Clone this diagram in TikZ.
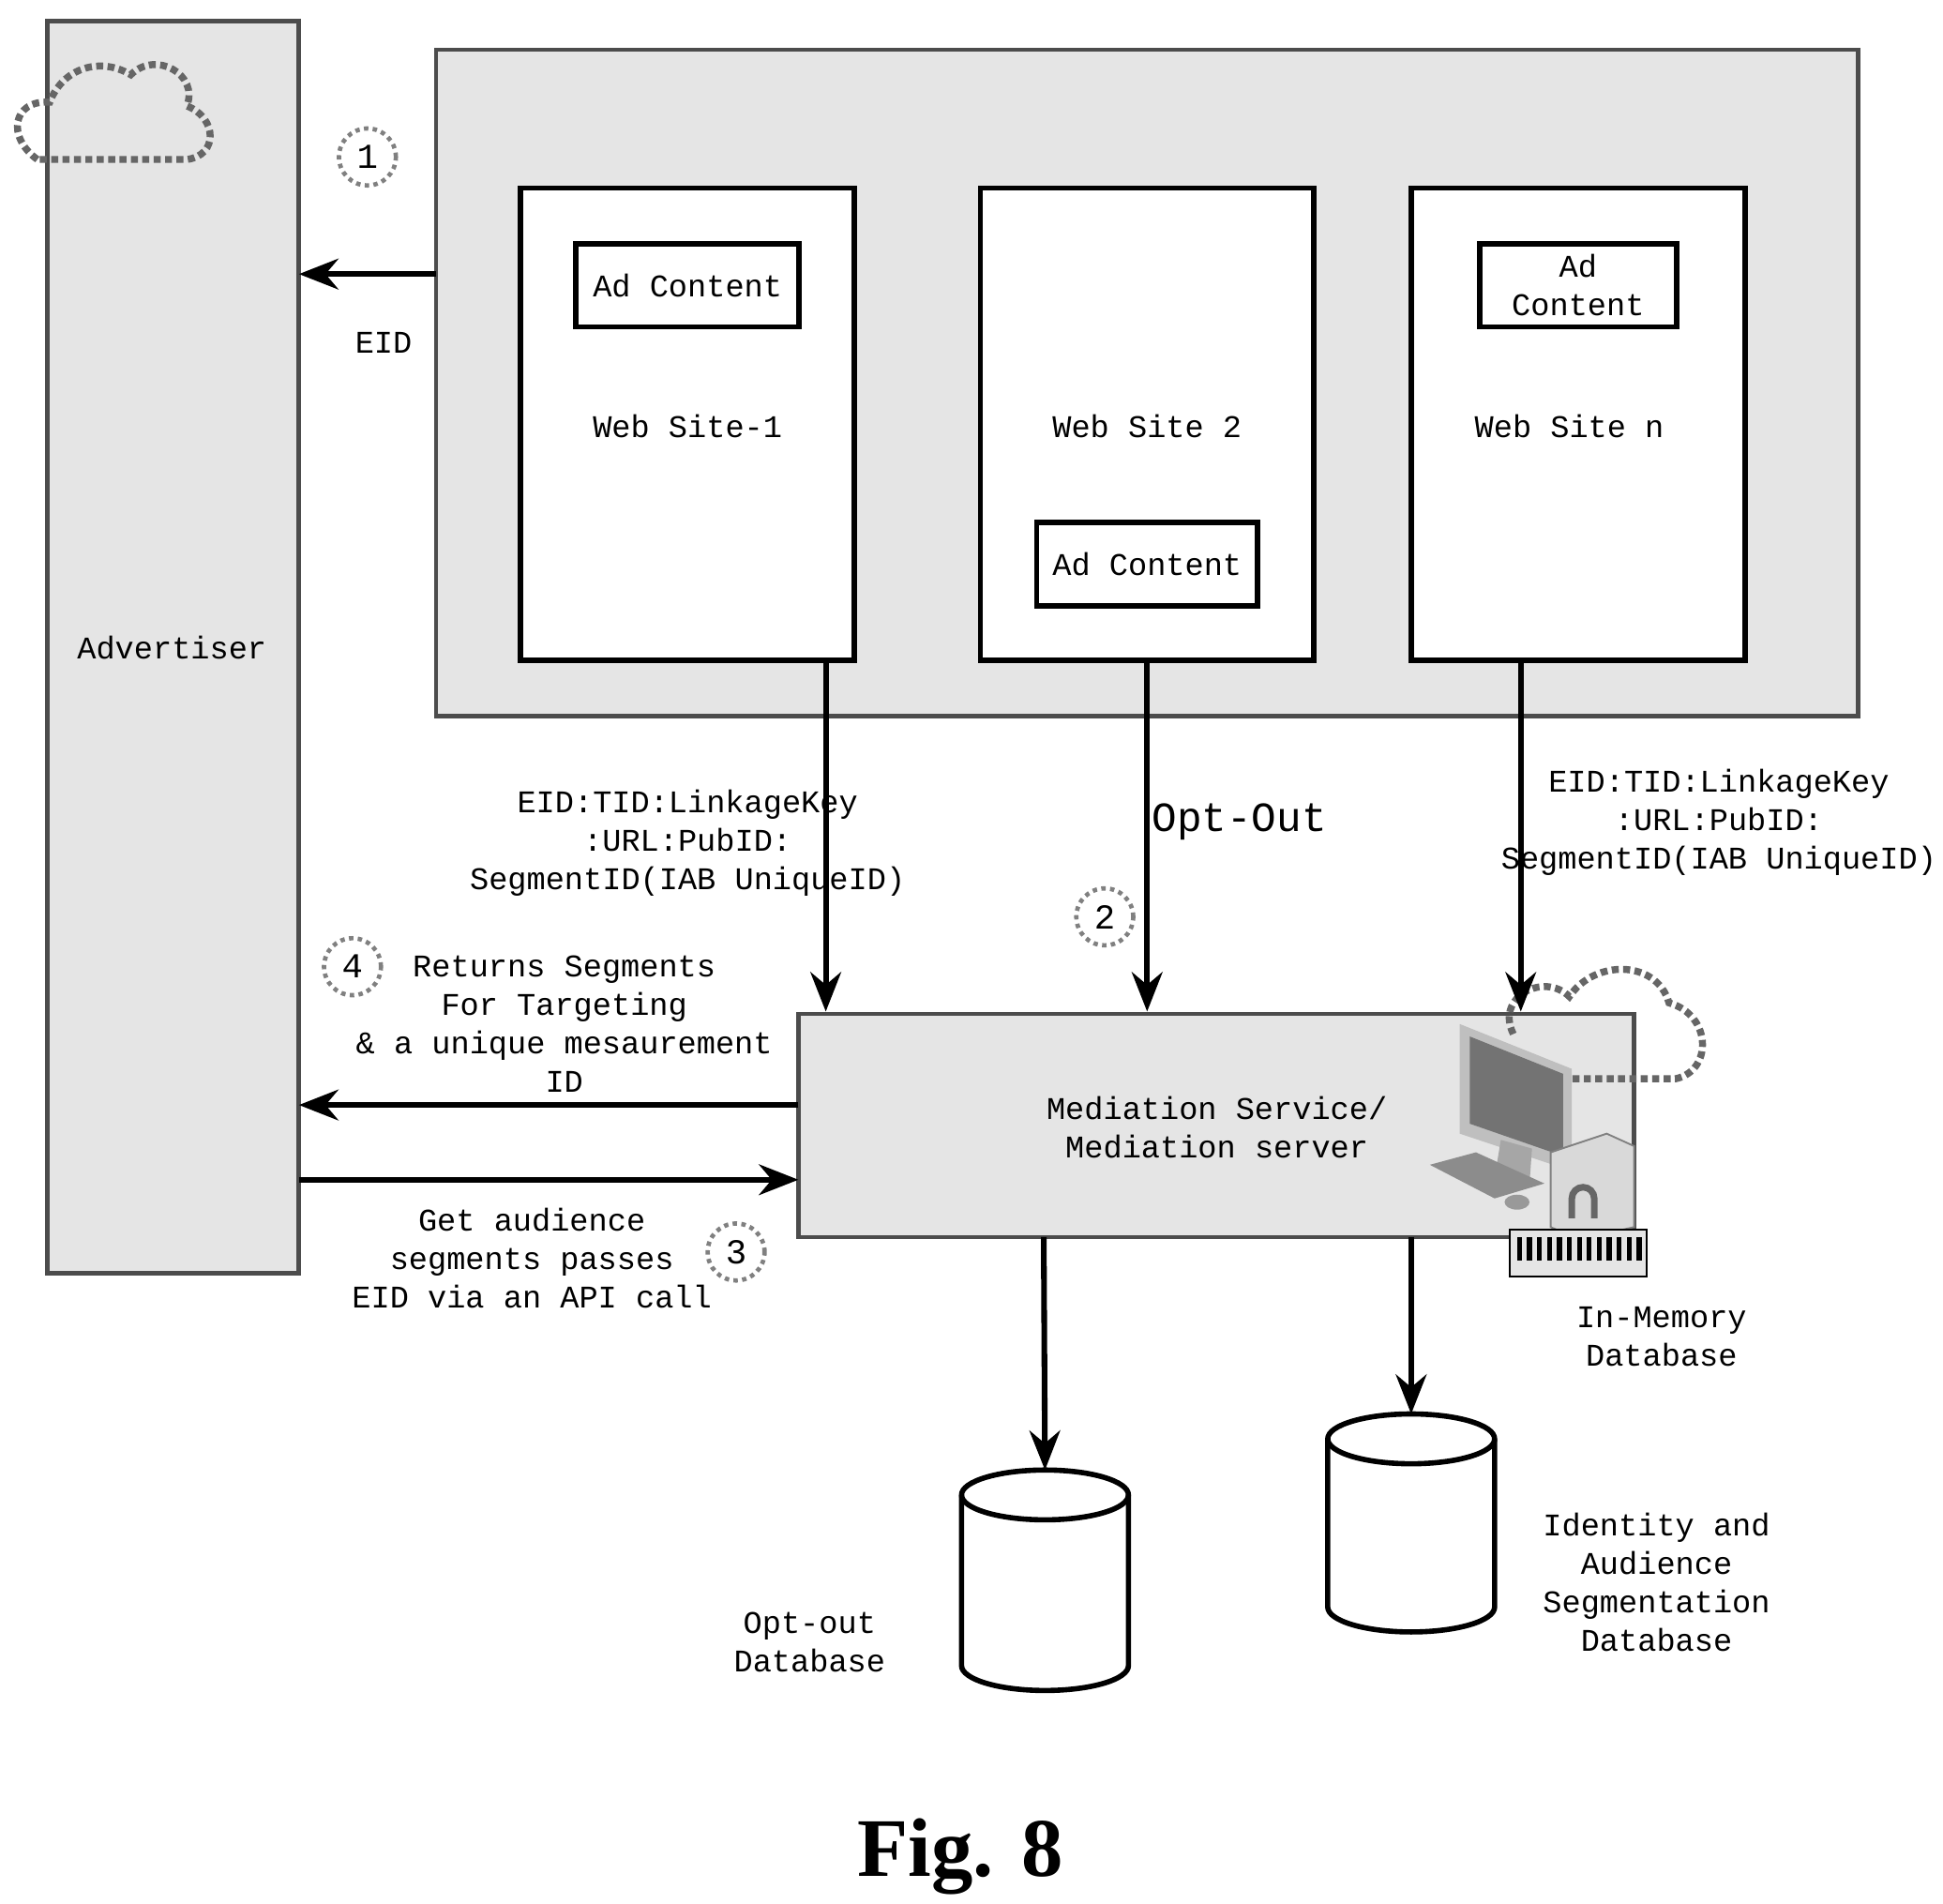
\documentclass[tikz,border=0pt]{standalone}
\usepackage{fontspec}
\setmainfont{Liberation Mono}
\newfontfamily\figfont{Liberation Serif}
\usetikzlibrary{arrows.meta}
\begin{document}
\begin{tikzpicture}[x=0.01cm,y=-0.01cm,
  box/.style={draw,line width=1.2pt,fill=white},
  shade/.style={draw=black!70,line width=1pt,fill=black!10},
  txt/.style={font=\fontsize{7.2}{8.8}\selectfont,align=center,inner sep=0pt},
  arr/.style={line width=1.3pt,-{Stealth[length=9pt,width=7pt]}},
  num/.style={circle,draw=black!50,densely dotted,line width=1pt,minimum size=13pt,inner sep=0pt,font=\fontsize{8}{9}\selectfont}]
\useasboundingbox (0,0) rectangle (1560,1528);
\fill[white] (0,0) rectangle (1560,1528);
% advertiser
\draw[shade] (38,17) rectangle (240,1022);
\node[txt] (adv) at (138,520) {Advertiser};
\draw[black!60,densely dotted,line width=1.6pt] (30,128) .. controls (5,110) and (10,80) .. (40,82) .. controls (50,55) and (80,45) .. (105,60) .. controls (125,40) and (160,60) .. (150,85) .. controls (175,95) and (175,125) .. (150,128) -- cycle;
% publishers
\draw[shade] (350,40) rectangle (1492,575);
\draw[box] (418,151) rectangle (686,530);
\draw[box] (787,151) rectangle (1055,530);
\draw[box] (1133,151) rectangle (1401,530);
\node[box,txt,minimum width=51pt,minimum height=19pt] (ad1) at (552,229) {Ad Content};
\node[box,txt,minimum width=50.5pt,minimum height=19pt] (ad2) at (921,453) {Ad Content};
\node[box,txt,minimum width=45pt,minimum height=19pt] (ad3) at (1267,229) {Ad\\Content};
\node[txt] (w1) at (552,342) {Web Site-1};
\node[txt] (w2) at (921,342) {Web Site 2};
\node[txt] (w3) at (1260,342) {Web Site n};
% mediation
\draw[shade] (641,814) rectangle (1312,993);
\node[txt] (med) at (977,905) {Mediation Service/\\Mediation server};
\draw[black!60,densely dotted,line width=1.6pt] (1215,830) .. controls (1200,800) and (1240,780) .. (1260,800) .. controls (1280,770) and (1330,770) .. (1340,805) .. controls (1375,815) and (1375,860) .. (1345,866) -- (1260,866);
% computer icon
\fill[black!25] (1172,822) -- (1262,858) -- (1262,940) -- (1172,910) -- cycle;
\fill[black!55] (1180,832) -- (1255,862) -- (1255,928) -- (1180,902) -- cycle;
\fill[black!35] (1205,915) -- (1230,922) -- (1228,950) -- (1200,945) -- cycle;
\fill[black!45] (1148,935) -- (1185,925) -- (1240,950) -- (1200,962) -- cycle;
\fill[black!40] (1218,965) ellipse (10 and 6);
\fill[black!15,draw=black!50] (1245,925) -- (1290,910) -- (1312,920) -- (1312,985) -- (1268,995) -- (1245,985) -- cycle;
\draw[black!60,line width=1.5pt] (1262,978) -- (1262,962) arc[start angle=180,end angle=360,radius=9] -- (1280,978);
\fill[black!10,draw=black] (1212,987) rectangle (1322,1025);
\foreach \i in {0,...,12}{\fill[black] (1218+\i*8,993) rectangle (1222+\i*8,1012);}
% DBs
\draw[line width=1.2pt,fill=white] (772,1200) -- (772,1337) arc[start angle=180,end angle=0,x radius=67,y radius=20] -- (906,1200) arc[start angle=0,end angle=-180,x radius=67,y radius=20] -- cycle;
\draw[line width=1.2pt] (772,1200) arc[start angle=180,end angle=0,x radius=67,y radius=20];
\coordinate (db1) at (839,1180);
\draw[line width=1.2pt,fill=white] (1066,1155) -- (1066,1290) arc[start angle=180,end angle=0,x radius=67,y radius=20] -- (1200,1155) arc[start angle=0,end angle=-180,x radius=67,y radius=20] -- cycle;
\draw[line width=1.2pt] (1066,1155) arc[start angle=180,end angle=0,x radius=67,y radius=20];
\coordinate (db2) at (1133,1135);
\node[txt] (l1) at (650,1318) {Opt-out\\Database};
\node[txt] (l2) at (1330,1270) {Identity and\\Audience\\Segmentation\\Database};
\node[txt] (l3) at (1334,1073) {In-Memory\\Database};
% arrows
\coordinate (p1) at (350,220); \coordinate (a1) at (240,220);
\draw[arr] (p1) -- (a1);
\node[txt] (eid) at (308,275) {EID};
\node[num] (n1) at (295,126) {1};
\coordinate (s1) at (663,530); \coordinate (m1) at (663,812);
\coordinate (s2) at (921,530); \coordinate (m2) at (921,812);
\coordinate (s3) at (1221,530); \coordinate (m3) at (1221,812);
\draw[arr] (s1) -- (m1); \draw[arr] (s2) -- (m2); \draw[arr] (s3) -- (m3);
\node[txt] (k1) at (552,677) {EID:TID:LinkageKey\\:URL:PubID:\\SegmentID(IAB UniqueID)};
\node[txt] (k3) at (1380,660) {EID:TID:LinkageKey\\:URL:PubID:\\SegmentID(IAB UniqueID)};
\node[txt,font=\fontsize{9.5}{11}\selectfont] (oo) at (995,660) {Opt-Out};
\node[num] (n2) at (887,736) {2};
\coordinate (m4) at (641,887); \coordinate (a4) at (240,887);
\draw[arr] (m4) -- (a4);
\node[txt] (r4) at (453,822) {Returns Segments\\For Targeting\\\& a unique mesaurement\\ID};
\node[num] (n4) at (283,776) {4};
\coordinate (a3) at (240,947); \coordinate (m5) at (641,947);
\draw[arr] (a3) -- (m5);
\node[txt] (g3) at (427,1010) {Get audience\\segments passes\\EID via an API call};
\node[num] (n3) at (591,1005) {3};
\coordinate (m6) at (838,993); \coordinate (m7) at (1133,993);
\draw[arr] (m6) -- (db1); \draw[arr] (m7) -- (db2);
\node[font=\figfont\bfseries\fontsize{19}{22}\selectfont] (fig) at (771,1490) {Fig. 8};
\end{tikzpicture}
\end{document}
